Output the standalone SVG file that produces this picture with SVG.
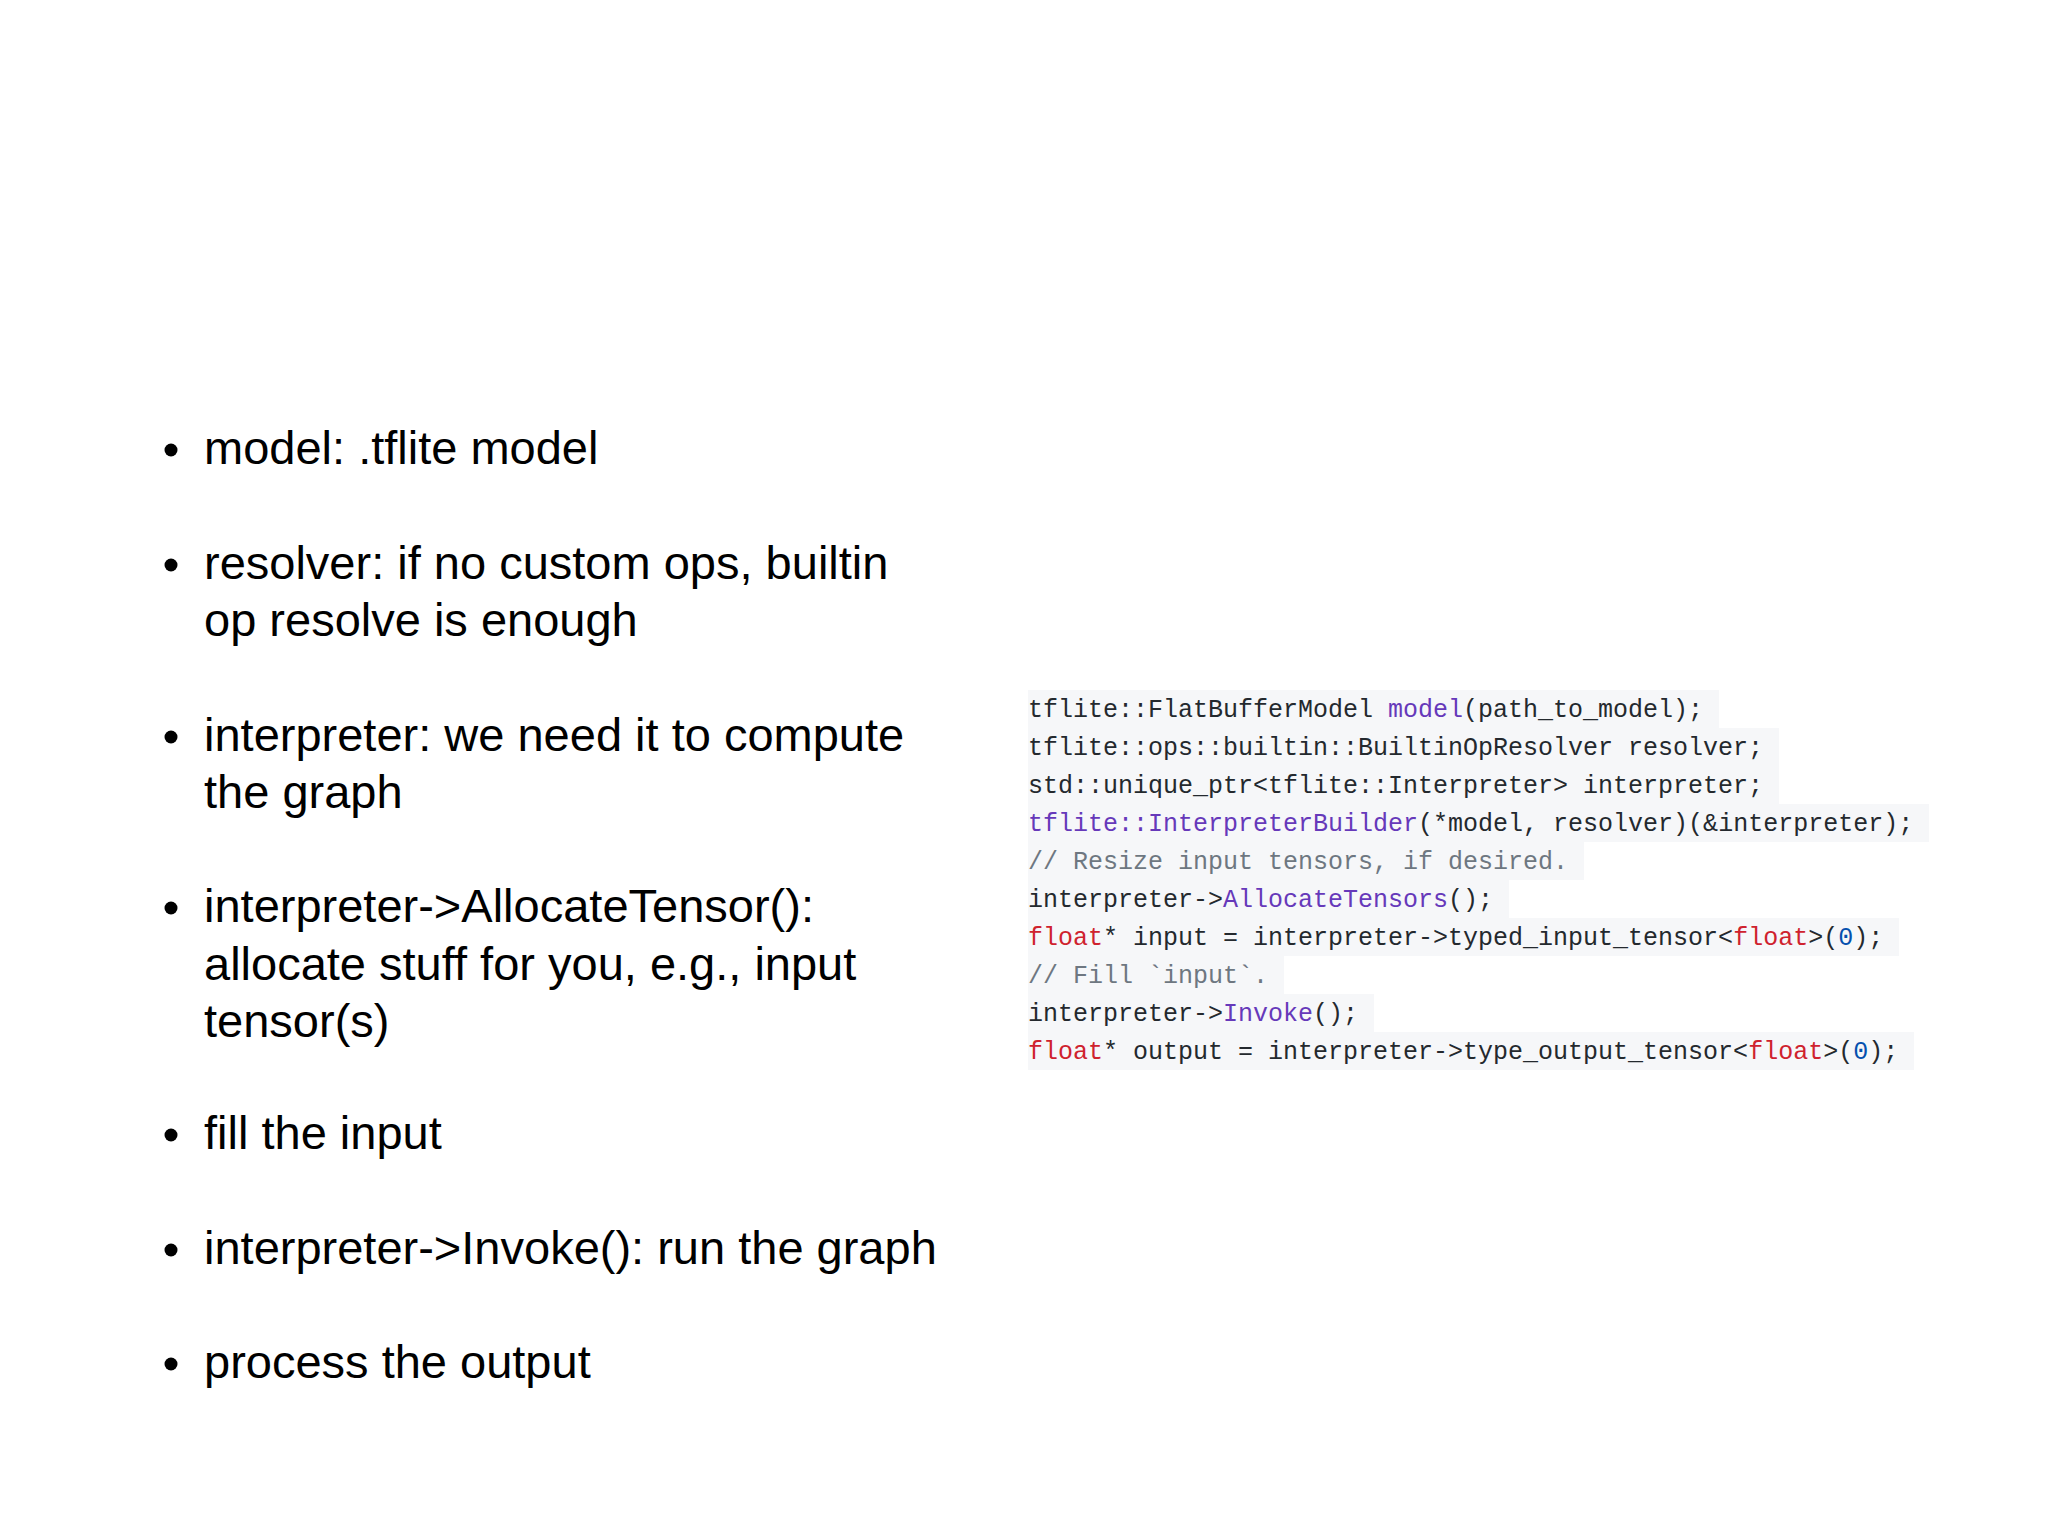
<svg xmlns="http://www.w3.org/2000/svg" width="2048" height="1536" viewBox="0 0 2048 1536">
<style>
.b{font-family:"Liberation Sans",Arial,sans-serif;font-size:47px;fill:#000}
.c{font-family:"Liberation Mono","DejaVu Sans Mono",monospace;font-size:25px;fill:#24292e;white-space:pre}
.p{fill:#6639ba}.r{fill:#cf222e}.n{fill:#0550ae}.g{fill:#6e7781}
.bg{fill:#f6f7f9}
</style>
<rect width="2048" height="1536" fill="#fff"/>
<g id="bullets">
<circle cx="171" cy="450" r="6.5"/><text class="b" x="204" y="464">model: .tflite model</text>
<circle cx="171" cy="565" r="6.5"/><text class="b" x="204" y="579">resolver: if no custom ops, builtin</text><text class="b" x="204" y="636">op resolve is enough</text>
<circle cx="171" cy="737" r="6.5"/><text class="b" x="204" y="751">interpreter: we need it to compute</text><text class="b" x="204" y="808">the graph</text>
<circle cx="171" cy="908" r="6.5"/><text class="b" x="204" y="922">interpreter-&gt;AllocateTensor():</text><text class="b" x="204" y="980">allocate stuff for you, e.g., input</text><text class="b" x="204" y="1037">tensor(s)</text>
<circle cx="171" cy="1135" r="6.5"/><text class="b" x="204" y="1149">fill the input</text>
<circle cx="171" cy="1250" r="6.5"/><text class="b" x="204" y="1264">interpreter-&gt;Invoke(): run the graph</text>
<circle cx="171" cy="1364" r="6.5"/><text class="b" x="204" y="1378">process the output</text>
</g>
<g id="code">
<rect class="bg" x="1028" y="690" width="691" height="38"/>
<rect class="bg" x="1028" y="728" width="751" height="38"/>
<rect class="bg" x="1028" y="766" width="751" height="38"/>
<rect class="bg" x="1028" y="804" width="901" height="38"/>
<rect class="bg" x="1028" y="842" width="556" height="38"/>
<rect class="bg" x="1028" y="880" width="481" height="38"/>
<rect class="bg" x="1028" y="918" width="871" height="38"/>
<rect class="bg" x="1028" y="956" width="256" height="38"/>
<rect class="bg" x="1028" y="994" width="346" height="38"/>
<rect class="bg" x="1028" y="1032" width="886" height="38"/>
<text class="c" x="1028" y="717">tflite::FlatBufferModel <tspan class="p">model</tspan>(path_to_model);</text>
<text class="c" x="1028" y="755">tflite::ops::builtin::BuiltinOpResolver resolver;</text>
<text class="c" x="1028" y="793">std::unique_ptr&lt;tflite::Interpreter&gt; interpreter;</text>
<text class="c" x="1028" y="831"><tspan class="p">tflite::InterpreterBuilder</tspan>(*model, resolver)(&amp;interpreter);</text>
<text class="c g" x="1028" y="869">// Resize input tensors, if desired.</text>
<text class="c" x="1028" y="907">interpreter-&gt;<tspan class="p">AllocateTensors</tspan>();</text>
<text class="c" x="1028" y="945"><tspan class="r">float</tspan>* input = interpreter-&gt;typed_input_tensor&lt;<tspan class="r">float</tspan>&gt;(<tspan class="n">0</tspan>);</text>
<text class="c g" x="1028" y="983">// Fill `input`.</text>
<text class="c" x="1028" y="1021">interpreter-&gt;<tspan class="p">Invoke</tspan>();</text>
<text class="c" x="1028" y="1059"><tspan class="r">float</tspan>* output = interpreter-&gt;type_output_tensor&lt;<tspan class="r">float</tspan>&gt;(<tspan class="n">0</tspan>);</text>
</g>
</svg>
